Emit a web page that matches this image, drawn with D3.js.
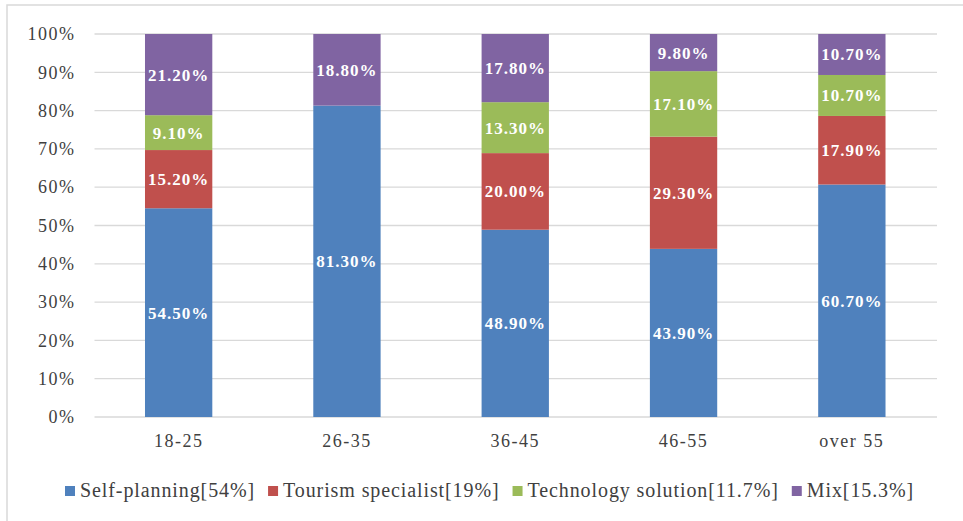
<!DOCTYPE html>
<html><head><meta charset="utf-8">
<script src="https://cdn.jsdelivr.net/npm/d3@7"></script>
<style>body{margin:0;background:#fff}svg{display:block}</style>
</head><body>
<svg id="c" width="963" height="521"></svg>
<script>
const categories = ["18-25","26-35","36-45","46-55","over 55"];
const seriesNames = ["Self-planning","Tourism specialist","Technology solution","Mix"];
const legendLabels = ["Self-planning[54%]","Tourism specialist[19%]","Technology solution[11.7%]","Mix[15.3%]"];
const selfPlanning = [54.5, 81.3, 48.9, 43.9, 60.7];
const tourismSpecialist = [15.2, 0, 20.0, 29.3, 17.9];
const technologySolution = [9.1, 0, 13.3, 17.1, 10.7];
const mix = [21.2, 18.8, 17.8, 9.8, 10.7];
const yTicks = [0,10,20,30,40,50,60,70,80,90,100];
const colors = ["#4F81BD","#C0504D","#9BBB59","#8064A2"];

const svg = d3.select("#c");
const font = "'Liberation Serif','Times New Roman',serif";

svg.append("path").attr("d","M7,521V5H963").attr("fill","none").attr("stroke","#d9d9d9").attr("stroke-width",1.5);

const x = d3.scaleBand().domain(categories).range([94.5,936]).paddingInner(0.6).paddingOuter(0.3);
const y = d3.scaleLinear().domain([0,100]).range([417,34]);

// gridlines
const g = svg.append("g");
g.selectAll("line.grid").data(yTicks).join("line")
  .attr("x1",94.5).attr("x2",937).attr("y1",d=>y(d)).attr("y2",d=>y(d))
  .attr("stroke","#d9d9d9").attr("stroke-width",1.3);

// y axis labels
const yAxis = d3.axisLeft(y).tickValues(yTicks).tickFormat(d=>d+"%").tickSize(0).tickPadding(19);
const ya = svg.append("g").attr("transform","translate(94.5,0)").call(yAxis);
ya.select(".domain").remove();
ya.selectAll("text").attr("font-family",font).attr("font-size",18).attr("fill","#404040").style("letter-spacing","1.5px");

// x axis labels
const xAxis = d3.axisBottom(x).tickSize(0).tickPadding(17);
const xa = svg.append("g").attr("transform","translate(0,417)").call(xAxis);
xa.select(".domain").remove();
xa.selectAll("text").attr("font-family",font).attr("font-size",18).attr("fill","#404040").style("letter-spacing","1.5px");

// stack
const values = [selfPlanning, tourismSpecialist, technologySolution, mix];
const rows = categories.map((c,i)=>{const r={cat:c}; seriesNames.forEach((s,j)=>r[s]=values[j][i]); return r;});
const stacked = d3.stack().keys(seriesNames)(rows);

stacked.forEach((layer,j)=>{
  const lg = svg.append("g");
  lg.selectAll("rect").data(layer.filter(d=>d.data[seriesNames[j]]>0)).join("rect")
    .attr("x",d=>x(d.data.cat)).attr("width",x.bandwidth())
    .attr("y",d=>y(Math.min(100,d[1]))).attr("height",d=>y(d[0])-y(Math.min(100,d[1])))
    .attr("fill",colors[j]);
  lg.selectAll("text").data(layer.filter(d=>d.data[seriesNames[j]]>0)).join("text")
    .attr("x",d=>x(d.data.cat)+x.bandwidth()/2)
    .attr("y",d=>(y(d[0])+y(Math.min(100,d[1])))/2)
    .attr("dy","0.35em").attr("text-anchor","middle")
    .attr("font-family",font).attr("font-size",17).attr("font-weight","bold").attr("fill","#fff")
    .style("letter-spacing","1px")
    .text(d=>d.data[seriesNames[j]].toFixed(2)+"%");
});

// legend
const leg = svg.append("g");
let lx = 65;
legendLabels.forEach((t,j)=>{
  leg.append("rect").attr("x",lx).attr("y",486).attr("width",10).attr("height",10).attr("fill",colors[j]);
  const tx = leg.append("text").attr("x",lx+15).attr("y",497)
    .attr("font-family",font).attr("font-size",20).attr("fill","#404040").style("letter-spacing","0.9px").text(t);
  lx += 15 + tx.node().getComputedTextLength() + 13;
});
</script>
</body></html>
